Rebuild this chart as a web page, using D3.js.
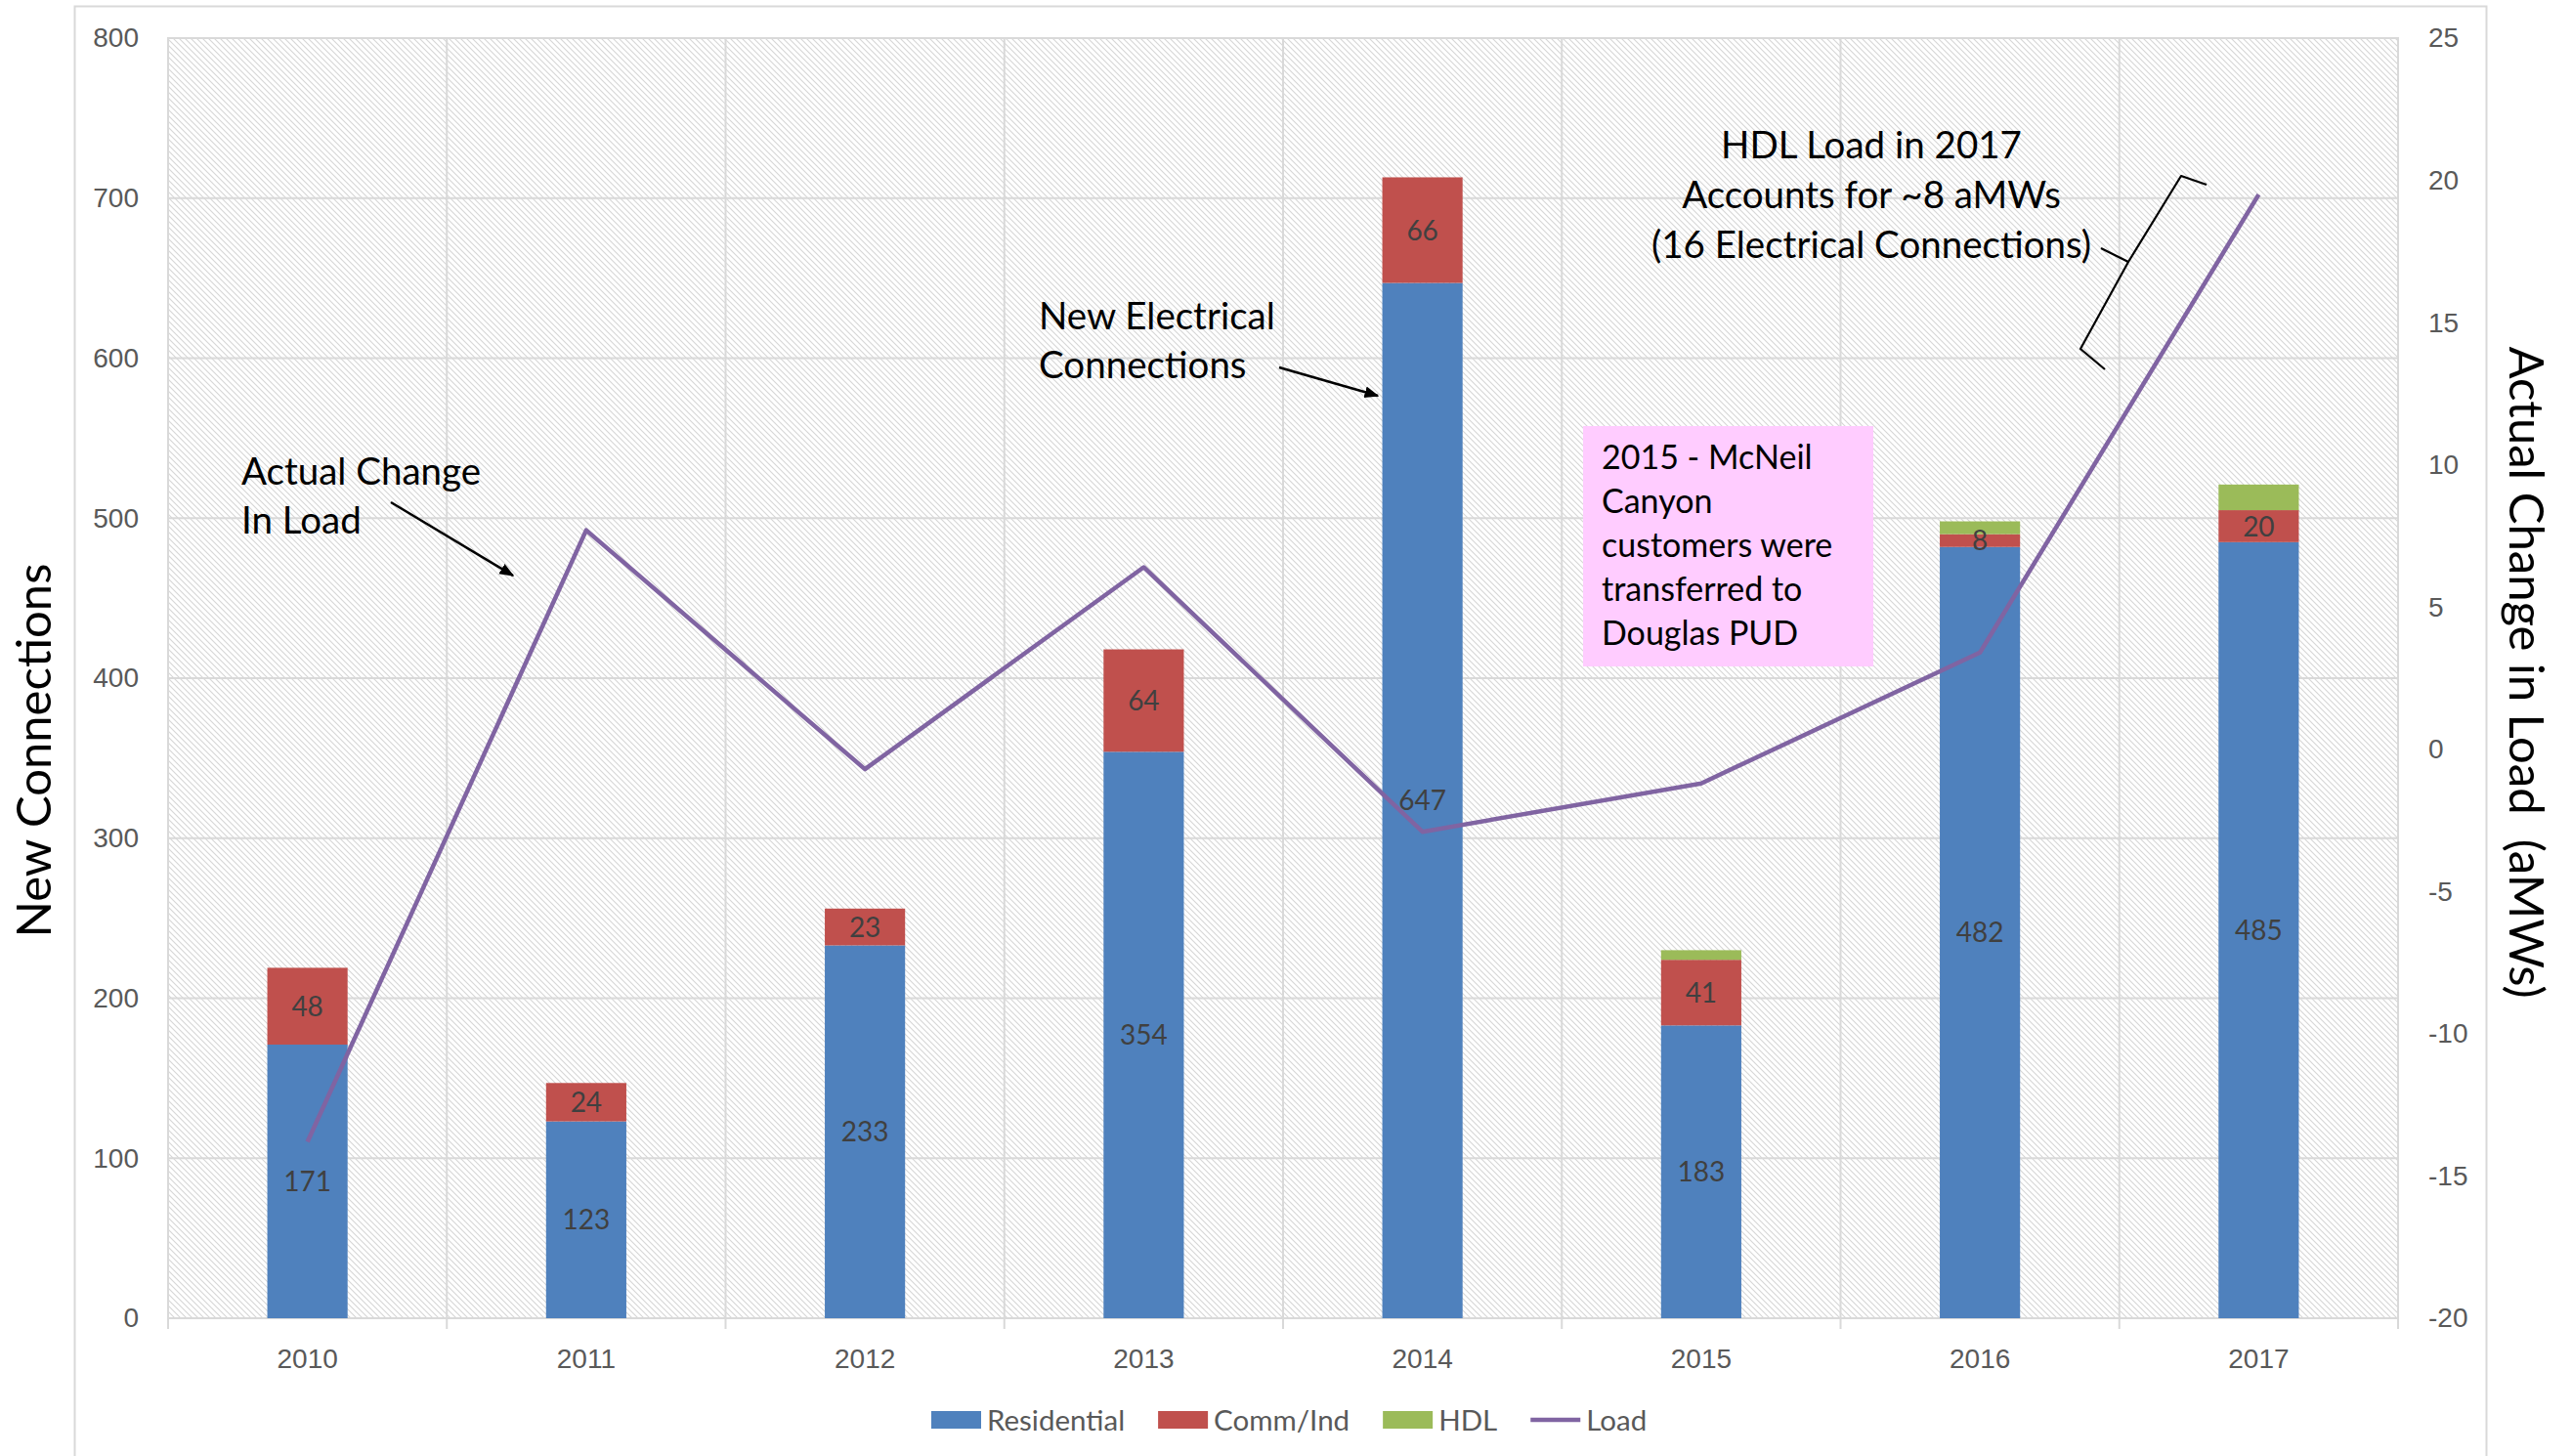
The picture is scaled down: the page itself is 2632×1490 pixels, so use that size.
<!DOCTYPE html>
<html>
<head>
<meta charset="utf-8">
<script src="https://cdn.jsdelivr.net/npm/d3@7"></script>
<style>
  body { margin: 0; background: #fff; }
  svg { display: block; font-family: Lato, "Open Sans", sans-serif; }
</style>
</head>
<body>
<div id="chart"></div>
<script>
// chart data
const years = ["2010", "2011", "2012", "2013", "2014", "2015", "2016", "2017"];
const residential = [171, 123, 233, 354, 647, 183, 482, 485];
const commInd = [48, 24, 23, 64, 66, 41, 8, 20];
const hdl = [0, 0, 0, 0, 0, 6, 8, 16];
const load = [-13.8, 7.7, -0.7, 6.4, -2.9, -1.2, 3.4, 19.5];
const leftTicks = [0, 100, 200, 300, 400, 500, 600, 700, 800];
const rightTicks = [-20, -15, -10, -5, 0, 5, 10, 15, 20, 25];
const seriesNames = ["Residential", "Comm/Ind", "HDL", "Load"];

const width = 2632;
const height = 1490;
const margin = { top: 39, right: 178, bottom: 141, left: 172 };
const plotW = width - margin.left - margin.right;
const plotH = height - margin.top - margin.bottom;

const colors = { Residential: "#4f81bd", "Comm/Ind": "#c0504d", HDL: "#9bbb59", Load: "#8064a2" };
const grid = "#d9d9d9";
const tickText = "#595959";

const table = years.map((year, i) => ({
  year,
  Residential: residential[i],
  "Comm/Ind": commInd[i],
  HDL: hdl[i],
  Load: load[i]
}));

const x = d3.scaleBand()
  .domain(years)
  .range([margin.left, width - margin.right])
  .padding(0);
const barW = x.bandwidth() * 0.288;
const cx = d => x(d) + x.bandwidth() / 2;

const y = d3.scaleLinear()
  .domain([0, 800])
  .range([height - margin.bottom, margin.top]);
const y2 = d3.scaleLinear()
  .domain([-20, 25])
  .range([height - margin.bottom, margin.top]);

const svg = d3.select("#chart")
  .append("svg")
  .attr("width", width)
  .attr("height", height);

// hatched plot background
const defs = svg.append("defs");
const pat = defs.append("pattern")
  .attr("id", "hatch")
  .attr("width", 6)
  .attr("height", 6)
  .attr("patternUnits", "userSpaceOnUse");
pat.append("rect").attr("width", 6).attr("height", 6).attr("fill", "#fff");
pat.append("path")
  .attr("d", "M-1,-1L7,7M-1,5L1,7M5,-1L7,1")
  .attr("stroke", "#d6d6d6")
  .attr("stroke-width", 1.1);

defs.append("marker")
  .attr("id", "arrow")
  .attr("viewBox", "0 0 10 10")
  .attr("refX", 9)
  .attr("refY", 5)
  .attr("markerWidth", 6)
  .attr("markerHeight", 6)
  .attr("orient", "auto")
  .append("path")
  .attr("d", "M0,1L10,5L0,9Z")
  .attr("fill", "#000");

// outer chart frame
svg.append("rect")
  .attr("x", 76.5)
  .attr("y", 6.5)
  .attr("width", 2468)
  .attr("height", 1500)
  .attr("fill", "none")
  .attr("stroke", grid)
  .attr("stroke-width", 2);

svg.append("rect")
  .attr("x", margin.left)
  .attr("y", margin.top)
  .attr("width", plotW)
  .attr("height", plotH)
  .attr("fill", "url(#hatch)")
  .attr("stroke", grid)
  .attr("stroke-width", 2);

// gridlines
svg.append("g")
  .selectAll("line")
  .data(leftTicks)
  .join("line")
    .attr("x1", margin.left)
    .attr("x2", width - margin.right)
    .attr("y1", d => y(d))
    .attr("y2", d => y(d))
    .attr("stroke", grid)
    .attr("stroke-width", 2);

const bounds = years.map(d => x(d)).concat([width - margin.right]);
svg.append("g")
  .selectAll("line")
  .data(bounds)
  .join("line")
    .attr("x1", d => d)
    .attr("x2", d => d)
    .attr("y1", margin.top)
    .attr("y2", height - margin.bottom + 11)
    .attr("stroke", grid)
    .attr("stroke-width", 2);

// stacked bars
const stacked = d3.stack().keys(["Residential", "Comm/Ind", "HDL"])(table);

svg.append("g")
  .selectAll("g")
  .data(stacked)
  .join("g")
    .attr("fill", s => colors[s.key])
  .selectAll("rect")
  .data(s => s.filter(d => d[1] > d[0]))
  .join("rect")
    .attr("x", d => cx(d.data.year) - barW / 2)
    .attr("y", d => y(d[1]))
    .attr("height", d => y(d[0]) - y(d[1]))
    .attr("width", barW);

// load line
const line = d3.line()
  .x(d => cx(d.year))
  .y(d => y2(d.Load));

svg.append("path")
  .datum(table)
  .attr("fill", "none")
  .attr("stroke", colors.Load)
  .attr("stroke-width", 4.5)
  .attr("stroke-linejoin", "round")
  .attr("d", line);

// data labels for residential and comm/ind
svg.append("g")
  .attr("font-size", 28)
  .attr("fill", "#404040")
  .attr("text-anchor", "middle")
  .selectAll("text")
  .data(stacked.slice(0, 2).flat())
  .join("text")
    .attr("x", d => cx(d.data.year))
    .attr("y", d => y((d[0] + d[1]) / 2))
    .attr("dy", "0.36em")
    .text(d => d[1] - d[0]);

// axes
const styleAxis = g => {
  g.select(".domain").remove();
  g.selectAll("text").attr("font-size", 28).attr("fill", tickText).attr("font-family", null);
};

svg.append("g")
  .attr("transform", `translate(${margin.left},0)`)
  .call(d3.axisLeft(y).tickValues(leftTicks).tickSize(0).tickPadding(30))
  .call(styleAxis);

svg.append("g")
  .attr("transform", `translate(${width - margin.right},0)`)
  .call(d3.axisRight(y2).tickValues(rightTicks).tickFormat(d => String(d)).tickSize(0).tickPadding(31))
  .call(styleAxis);

svg.append("g")
  .attr("transform", `translate(0,${height - margin.bottom})`)
  .call(d3.axisBottom(x).tickSize(0).tickPadding(31))
  .call(styleAxis);

// axis titles
svg.append("text")
  .attr("transform", "translate(52,768) rotate(-90)")
  .attr("text-anchor", "middle")
  .attr("font-size", 49)
  .attr("fill", "#000")
  .text("New Connections");

svg.append("text")
  .attr("transform", "translate(2568,688) rotate(90)")
  .attr("text-anchor", "middle")
  .attr("font-size", 49)
  .attr("fill", "#000")
  .style("white-space", "pre")
  .text("Actual Change in Load  (aMWs)");

// annotations
const note = (lines, tx, ty, anchor, size, step) => {
  const t = svg.append("text")
    .attr("font-size", size)
    .attr("fill", "#000")
    .attr("text-anchor", anchor);
  lines.forEach((l, i) => {
    t.append("tspan").attr("x", tx).attr("y", ty + i * step).text(l);
  });
};

note(["Actual Change", "In Load"], 247, 496, "start", 38.5, 50);
note(["New Electrical", "Connections"], 1063, 337, "start", 38.5, 50);
note(["HDL Load in 2017", "Accounts for ~8 aMWs", "(16 Electrical Connections)"], 1915, 162, "middle", 38.5, 51);

svg.append("line")
  .attr("x1", 400).attr("y1", 514)
  .attr("x2", 525).attr("y2", 589)
  .attr("stroke", "#000").attr("stroke-width", 2.5)
  .attr("marker-end", "url(#arrow)");

svg.append("line")
  .attr("x1", 1309).attr("y1", 376)
  .attr("x2", 1410).attr("y2", 405)
  .attr("stroke", "#000").attr("stroke-width", 2.5)
  .attr("marker-end", "url(#arrow)");

// curly brace next to the HDL note
svg.append("path")
  .attr("d", "M2258,189L2232,180L2178,268L2150,254M2178,268L2129,357L2154,378")
  .attr("fill", "none")
  .attr("stroke", "#000")
  .attr("stroke-width", 2.2)
  .attr("stroke-linejoin", "round");

// pink call-out box
svg.append("rect")
  .attr("x", 1620)
  .attr("y", 436)
  .attr("width", 297)
  .attr("height", 246)
  .attr("fill", "#ffccff");
note(["2015 - McNeil", "Canyon", "customers were", "transferred to", "Douglas PUD"], 1639, 480, "start", 34, 45);

// legend
const legend = svg.append("g")
  .attr("font-size", 29.5)
  .attr("fill", tickText);
let lx = 953;
const ly = 1453;
seriesNames.forEach(name => {
  if (name === "Load") {
    legend.append("line")
      .attr("x1", lx).attr("x2", lx + 51)
      .attr("y1", ly).attr("y2", ly)
      .attr("stroke", colors[name])
      .attr("stroke-width", 4.5);
  } else {
    legend.append("rect")
      .attr("x", lx).attr("y", ly - 9)
      .attr("width", 51).attr("height", 18)
      .attr("fill", colors[name]);
  }
  const t = legend.append("text")
    .attr("x", lx + 57)
    .attr("y", ly)
    .attr("dy", "0.36em")
    .text(name);
  lx += 57 + t.node().getComputedTextLength() + 34;
});
</script>
</body>
</html>
